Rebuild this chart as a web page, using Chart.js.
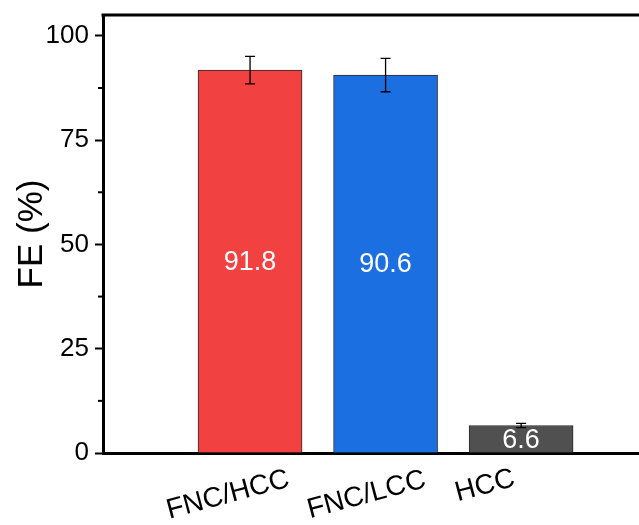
<!DOCTYPE html>
<html>
<head>
<meta charset="utf-8">
<script src="https://cdn.jsdelivr.net/npm/chart.js@4/dist/chart.umd.min.js"></script>
<style>
  html, body { margin: 0; padding: 0; background: #fff; overflow: hidden; }
  #wrap { width: 700px; height: 525px; }
</style>
</head>
<body>
<div id="wrap"><canvas id="fe-chart" width="700" height="525"></canvas></div>
<script>
// datos
const categories = ['FNC/HCC', 'FNC/LCC', 'HCC'];
const feValues = [91.8, 90.6, 6.6];
const feErrors = [3.3, 4.0, 0.5];
const valueLabels = ['91.8', '90.6', '6.6'];
const yMajorTicks = [0, 25, 50, 75, 100];
const yMinorTicks = [12.5, 37.5, 62.5, 87.5];

const barColors = ['#F24141', '#1C6FE0', '#505050'];
const FONT = 'Arial, "Liberation Sans", sans-serif';

// ajuste fino de cada etiqueta del eje x (px respecto al centro de la barra)
const xLabelShift = [[-22, 495], [-19, 495], [-36, 486]];

const extras = {
    id: 'extras',
    afterDatasetsDraw(chart) {
        const { ctx, scales: { x, y }, chartArea } = chart;
        ctx.save();

        // barras de error
        ctx.strokeStyle = '#000';
        ctx.lineWidth = 1.3;
        feValues.forEach((v, i) => {
            const px = x.getPixelForValue(i + 1);
            const top = y.getPixelForValue(v + feErrors[i]);
            const bot = y.getPixelForValue(v - feErrors[i]);
            ctx.beginPath();
            ctx.moveTo(px, top); ctx.lineTo(px, bot);
            ctx.moveTo(px - 5, top); ctx.lineTo(px + 5, top);
            ctx.moveTo(px - 5, bot); ctx.lineTo(px + 5, bot);
            ctx.stroke();
        });

        // valores dentro de las barras
        ctx.fillStyle = '#fff';
        ctx.font = '27px ' + FONT;
        ctx.textAlign = 'center';
        ctx.textBaseline = 'middle';
        feValues.forEach((v, i) => {
            ctx.fillText(valueLabels[i], x.getPixelForValue(i + 1), y.getPixelForValue(v / 2) + 1);
        });

        // borde superior
        ctx.strokeStyle = '#000';
        ctx.lineWidth = 3;
        ctx.beginPath();
        ctx.moveTo(chartArea.left - 1.5, chartArea.top);
        ctx.lineTo(chart.width, chartArea.top);
        ctx.stroke();

        // ticks menores
        ctx.lineWidth = 2;
        yMinorTicks.forEach(t => {
            const py = y.getPixelForValue(t);
            ctx.beginPath();
            ctx.moveTo(chartArea.left - 5, py);
            ctx.lineTo(chartArea.left, py);
            ctx.stroke();
        });

        // etiquetas del eje x, inclinadas
        ctx.fillStyle = '#000';
        ctx.font = '28px ' + FONT;
        categories.forEach((c, i) => {
            const px = x.getPixelForValue(i + 1) + xLabelShift[i][0];
            ctx.save();
            ctx.translate(px, xLabelShift[i][1]);
            ctx.rotate(-15 * Math.PI / 180);
            ctx.fillText(c, 0, 0);
            ctx.restore();
        });

        ctx.restore();
    }
};

new Chart(document.getElementById('fe-chart'), {
    type: 'bar',
    data: {
        datasets: [{
            data: feValues.map((v, i) => ({ x: i + 1, y: v })),
            backgroundColor: barColors,
            borderColor: '#2a2a2a',
            borderWidth: 1,
            barThickness: 104
        }]
    },
    options: {
        responsive: false,
        animation: false,
        layout: { padding: { top: 15, left: 0, right: 0, bottom: 0 } },
        plugins: { legend: { display: false }, tooltip: { enabled: false } },
        scales: {
            x: {
                type: 'linear',
                min: -0.085,
                max: 4.32,
                offset: false,
                grid: { display: false, drawTicks: false },
                border: { display: true, color: '#000', width: 3 },
                ticks: { display: false },
                afterFit: s => { s.height = 72; }
            },
            y: {
                min: 0,
                max: 105,
                afterBuildTicks: s => { s.ticks = yMajorTicks.map(v => ({ value: v })); },
                grid: { drawOnChartArea: false, tickLength: 8, tickWidth: 2, tickColor: '#000' },
                border: { display: true, color: '#000', width: 3 },
                ticks: {
                    color: '#000',
                    padding: 6,
                    font: { size: 26, family: FONT }
                },
                title: {
                    display: true,
                    text: 'FE (%)',
                    color: '#000',
                    padding: { top: 11, bottom: 6 },
                    font: { size: 35, family: FONT }
                },
                afterFit: s => { s.width = 103; s.paddingTop = 0; s.paddingBottom = 0; }
            }
        }
    },
    plugins: [extras]
});
</script>
</body>
</html>
